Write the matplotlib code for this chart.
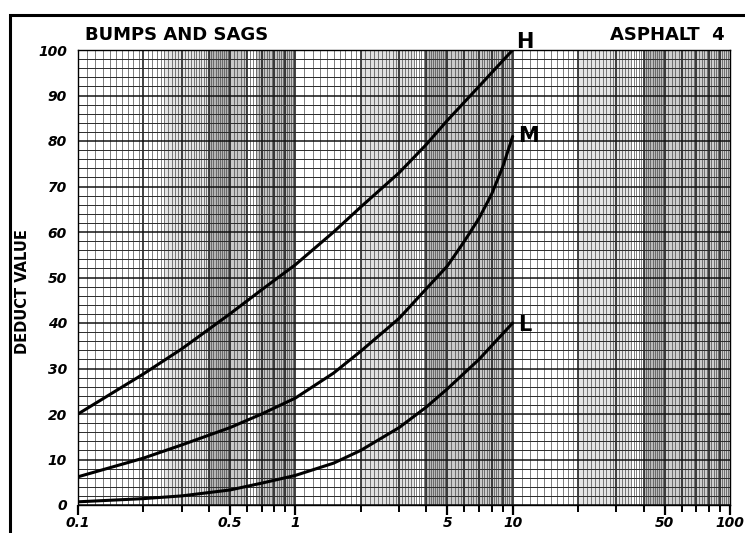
import numpy as np
import matplotlib
matplotlib.use("Agg")
import matplotlib.pyplot as plt
from matplotlib.patches import Rectangle

# ---- data ----
x_h = [0.1, 0.2, 0.3, 0.5, 0.7, 1, 1.5, 2, 3, 4, 5, 7, 10]
y_h = [20, 28.8, 34.3, 42, 47.3, 52.8, 60, 65.5, 73, 79.2, 84.5, 92, 100]
x_m = [0.1, 0.2, 0.3, 0.5, 0.7, 1, 1.5, 2, 3, 4, 5, 6, 7, 8, 9, 10]
y_m = [6.2, 10.3, 13.2, 17, 20, 23.5, 29, 33.8, 41, 47.5, 52.5, 58, 63, 68.3, 74.3, 81]
x_l = [0.1, 0.2, 0.3, 0.5, 0.7, 1, 1.5, 2, 3, 4, 5, 7, 10]
y_l = [0.7, 1.4, 2.0, 3.3, 4.8, 6.5, 9.2, 12, 17, 21.5, 25.5, 32, 40]
curve_names = ["H", "M", "L"]
x_ticklabels = ["0.1", "0.5", "1", "5", "10", "50", "100"]
x_ticks = [0.1, 0.5, 1, 5, 10, 50, 100]
y_ticks = list(range(0, 101, 10))

fig = plt.figure(figsize=(7.45, 5.33), dpi=100)
ax = fig.add_axes([78/745, 1-505/533, (730-78)/745, (505-50)/533])
ax.set_xscale("log")
ax.set_xlim(0.1, 100)
ax.set_ylim(0, 100)

# grey bands (scan shading of the log paper)
for a, b, c in [(0.25, 0.4, "#e4e4e4"), (0.4, 0.5, "#b4b4b4"), (0.5, 0.6, "#c8c8c8"),
                (0.66, 1.0, "#c4c4c4"), (2.0, 3.5, "#e0e0e0"),
                (4.0, 5.0, "#b8b8b8"), (5.0, 10, "#cacaca"),
                (20, 35, "#e4e4e4"), (40, 50, "#b8b8b8"), (50, 100, "#cdcdcd")]:
    ax.axvspan(a, b, color=c, lw=0, zorder=0)

# log-paper grid (fine steps of the printed paper)
for dec in [0.1, 1, 10]:
    mants = list(np.arange(1.0, 5.0, 0.1)) + list(np.arange(5.0, 10.0, 0.2))
    for m in mants:
        v = dec * m
        major = abs(m - round(m)) < 1e-6
        ax.axvline(v, color="#111111" if major else "#4a4a4a",
                   lw=1.1 if major else 0.5, zorder=1)
for v in np.arange(0, 101, 2):
    major = v % 10 == 0
    ax.axhline(v, color="#111111" if major else "#2a2a2a",
               lw=1.1 if major else 0.7, zorder=1)

# curves
for xs, ys in [(x_h, y_h), (x_m, y_m), (x_l, y_l)]:
    ax.plot(xs, ys, color="black", lw=2.2, zorder=3, solid_capstyle="round",
            solid_joinstyle="round")

lab_kw = dict(fontsize=15, fontweight="bold", color="black", zorder=4,
              ha="left", va="center")
ax.text(10.4, 101.8, curve_names[0], clip_on=False, **lab_kw)
ax.text(10.6, 81, curve_names[1], clip_on=False, **lab_kw)
ax.text(10.6, 39.5, curve_names[2], clip_on=False, **lab_kw)

for s in ax.spines.values():
    s.set_linewidth(1.0)

ax.set_xticks(x_ticks)
ax.set_xticklabels(x_ticklabels, fontsize=10, fontweight="bold", style="italic")
minor = [d*m for d in [0.1, 1, 10] for m in range(2, 10) if m != 5]
ax.set_xticks(minor, minor=True)
ax.set_xticklabels([], minor=True)
ax.tick_params(axis="x", which="major", length=7, width=1.6, direction="out", pad=1)
ax.tick_params(axis="x", which="minor", length=5, width=1.4, direction="out")
ax.set_yticks(y_ticks)
ax.set_yticklabels([str(v) for v in y_ticks], fontsize=10, fontweight="bold", style="italic")
ax.tick_params(axis="y", length=0, pad=8)

ax.set_ylabel("DEDUCT VALUE", fontsize=10.5, fontweight="bold",
              family=["Liberation Sans Narrow", "DejaVu Sans"])
ax.yaxis.set_label_coords(-0.074, 0.47)

fig.text(85/745, 1-35/533, "BUMPS AND SAGS", fontsize=13, fontweight="bold",
         ha="left", va="center")
fig.text(725/745, 1-35/533, "ASPHALT  4", fontsize=13, fontweight="bold",
         ha="right", va="center")

fig.add_artist(Rectangle((10/745, -0.05), 1.0, 1-15/533+0.05, transform=fig.transFigure,
                         fill=False, edgecolor="black", lw=2.2))

fig.savefig("out.png", dpi=100)
